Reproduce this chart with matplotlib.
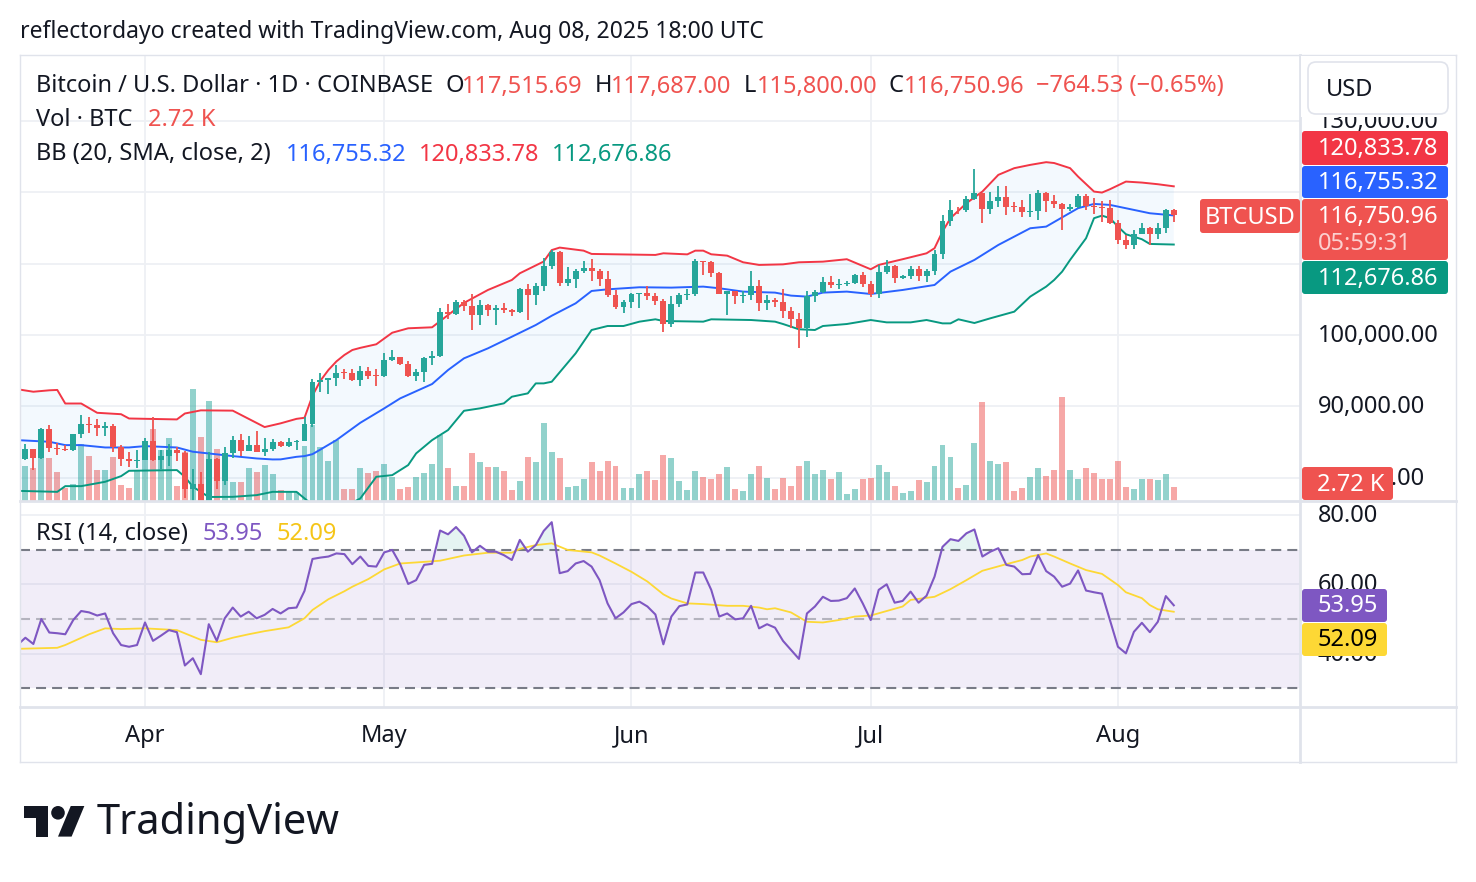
import numpy as np
import pandas as pd
import matplotlib
matplotlib.use("Agg")
import matplotlib.pyplot as plt
import matplotlib.dates as mdates
from matplotlib import transforms
from matplotlib.lines import Line2D
from matplotlib.patches import FancyBboxPatch, Polygon, Circle, Rectangle

plt.rcParams['font.family'] = ['Noto Sans', 'DejaVu Sans']

# ---- daily candles, Mar 17 .. Aug 8 2025 (COINBASE BTCUSD, 1D) ----
first_day = '2025-03-17'
opens = [
    82580, 84030, 82720, 86860, 84200, 84070, 83830, 86080, 87500, 87420, 86900, 87230, 84350, 82650, 82380,
    82540, 85160, 82500, 83100, 83860, 83500, 78370, 79130, 76300, 82600, 79600, 83420, 85280, 83760, 84560,
    83640, 84030, 84940, 84460, 85060, 85170, 87510, 93440, 93700, 93960, 94700, 94650, 93750, 94980, 94250,
    94200, 96480, 96880, 95920, 94300, 94750, 96830, 97030, 103240, 102970, 104650, 104100, 102800, 104150, 103530,
    103750, 103500, 103180, 106450, 105600, 106800, 109600, 111700, 107300, 107800, 109000, 109400, 108950, 107800, 105600, 103900,
    104600, 105700, 105850, 105400, 104700, 101550, 104300, 105600, 105750, 110300, 110250, 108650, 105700, 106100, 105450,
    105550, 106800, 104550, 104850, 104650, 103300, 102200, 100950, 105400, 106050, 107400, 107050, 107100, 107300, 108400,
    107150, 105700, 108850, 109600, 107950, 108200, 109200, 108250, 108950, 111300, 115950, 117550, 117450, 119100, 119850,
    117700, 118750, 119300, 117950, 117900, 117300, 117400, 119950, 118750, 118350, 117650, 117950, 119450, 118050, 117900, 117800,
    115750, 113300, 112550, 114200, 115050, 114100, 115000, 117515.69]
highs = [
    84750, 84040, 87000, 87450, 84800, 84530, 86100, 88770, 88550, 88280, 87800, 87500, 84570, 83540, 83900,
    85500, 88500, 83940, 84700, 84250, 83780, 81200, 80850, 83540, 82700, 84250, 85900, 86100, 85800, 86500,
    85500, 85470, 85100, 85600, 85300, 88450, 93850, 94700, 94000, 95750, 95300, 95200, 95600, 95450, 95200,
    97450, 97900, 96950, 96300, 95200, 96950, 97700, 103800, 104300, 104950, 104950, 105800, 104950, 104300, 104150,
    104550, 103700, 106650, 107100, 107300, 110750, 111980, 111800, 109500, 109300, 110400, 110700, 109300, 108900, 106300, 104900,
    105900, 105900, 106800, 105950, 105000, 105500, 105950, 106400, 110600, 110400, 110400, 108800, 106200, 106200, 106100,
    108900, 107750, 105550, 105250, 106500, 103950, 103100, 106100, 106300, 108100, 108300, 107800, 107600, 108500, 108800,
    107550, 109750, 110550, 109750, 108400, 109700, 109700, 109200, 111950, 116800, 118850, 118000, 119450, 123200, 119950,
    120100, 120950, 120950, 118600, 118850, 119700, 120250, 120100, 119550, 118500, 118300, 119800, 119800, 119250, 118800, 118900,
    116100, 114000, 114750, 115700, 115100, 115700, 117650, 117687.00]
lows = [
    82450, 81150, 82600, 83650, 83170, 83680, 83800, 85540, 86300, 85860, 85800, 83600, 81600, 81570, 81300,
    82430, 82300, 81200, 81650, 82350, 77150, 74500, 76200, 74600, 78450, 78950, 82800, 83050, 83700, 83600,
    83100, 83750, 84300, 84300, 83950, 85150, 87100, 91950, 91700, 92900, 93900, 93600, 92850, 93800, 92900,
    94150, 96350, 95750, 94100, 93500, 93400, 95800, 96950, 102300, 102850, 103350, 100750, 101450, 102650, 101400,
    103100, 102650, 103100, 102050, 104250, 106150, 109300, 106800, 106900, 106650, 108750, 107600, 106800, 105350, 103650, 103100,
    103850, 103750, 104950, 104150, 100400, 101100, 103950, 104900, 105400, 108350, 108100, 105700, 102800, 104300, 104500,
    104950, 103400, 103550, 103950, 102400, 100950, 98200, 99650, 104650, 105850, 106600, 106400, 106800, 107200, 106750,
    105300, 105150, 108600, 107300, 107800, 107800, 107500, 107450, 108350, 110600, 115250, 116950, 117250, 118900, 115700,
    116950, 117900, 116800, 117300, 116550, 116500, 116150, 117300, 117800, 114750, 117400, 117850, 117450, 116900, 115800, 115550,
    112750, 112000, 112000, 114100, 112650, 113400, 114300, 115800.00]
closes = [
    84030, 82720, 86860, 84200, 84070, 83830, 86080, 87500, 87420, 86900, 87230, 84350, 82650, 82380, 82540,
    85160, 82500, 83100, 83860, 83500, 78370, 79130, 76300, 82600, 79600, 83420, 85280, 83760, 84560, 83640,
    84030, 84940, 84460, 85060, 85170, 87510, 93440, 93700, 93960, 94700, 94650, 93750, 94980, 94250, 94200,
    96480, 96880, 95920, 94300, 94750, 96830, 97030, 103240, 102970, 104650, 104100, 102800, 104150, 103530, 103750,
    103500, 103180, 106450, 105600, 106800, 109600, 111700, 107300, 107800, 109000, 109400, 108950, 107800, 105600, 103900, 104600,
    105700, 105850, 105400, 104700, 101550, 104300, 105600, 105750, 110300, 110250, 108650, 105700, 106100, 105450, 105550,
    106800, 104550, 104850, 104650, 103300, 102200, 100950, 105400, 106050, 107400, 107050, 107100, 107300, 108400, 107150,
    105700, 108850, 109600, 107950, 108200, 109200, 108250, 108950, 111300, 115950, 117550, 117450, 119100, 119850, 117700,
    118750, 119300, 117950, 117900, 117300, 117400, 119950, 118750, 118350, 117650, 117950, 119450, 118050, 117900, 117800, 115750,
    113300, 112550, 114200, 115050, 114100, 115000, 117515.49, 116750.96]
# volume in thousands of BTC
volume_k = [
    6.8, 6.35, 8.3, 8.4, 5.7, 2.45, 3.25, 11.1, 8.75, 6.0, 6.0, 8.5, 3.1, 2.6, 6.0,
    8.0, 14.0, 9.9, 12.2, 2.9, 9.6, 21.7, 12.5, 19.4, 10.1, 8.9, 3.75, 3.75, 6.35, 5.7,
    7.0, 5.25, 2.15, 2.0, 1.8, 10.6, 14.7, 10.45, 7.85, 11.75, 2.25, 2.25, 6.35, 5.4, 5.8,
    7.1, 4.6, 2.25, 2.8, 4.6, 5.4, 7.1, 12.9, 6.35, 3.0, 3.0, 9.3, 7.55, 6.55, 6.55,
    5.9, 2.05, 3.85, 8.5, 7.55, 15.1, 9.5, 8.3, 2.7, 2.9, 4.2, 7.55, 5.8, 7.85, 6.7, 2.5,
    2.5, 5.15, 5.8, 4.0, 8.85, 8.3, 3.8, 2.05, 5.8, 4.75, 4.2, 5.15, 6.55, 2.25, 1.85,
    5.15, 6.7, 4.45, 2.25, 4.5, 3.0, 6.7, 7.7, 5.15, 6.1, 4.35, 5.55, 1.4, 2.25, 4.35,
    4.55, 6.9, 5.55, 3.0, 1.65, 1.85, 4.0, 3.6, 6.7, 10.8, 8.45, 2.45, 3.2, 11.35, 19.3,
    7.85, 7.1, 7.5, 1.85, 2.45, 4.75, 6.5, 4.95, 6.1, 20.1, 6.1, 4.35, 6.5, 5.35, 4.2, 4.2,
    7.85, 2.8, 2.25, 4.2, 4.35, 4.0, 5.15, 2.72]

# Bollinger bands (day index from Mar 17, value)
bb_upper_day = [-1, 1, 3, 4, 5, 7, 9, 12, 13, 19, 20, 22, 26, 30, 32, 34, 35, 36, 37, 38, 39, 40, 41, 42, 44,
                46, 48, 51, 53, 55, 58, 61, 62, 65, 66, 67, 70, 71, 79, 80, 83, 84, 85, 86, 88, 90, 92, 95,
                97, 100, 103, 106, 107, 110, 113, 114, 115, 116, 118, 120, 122, 124, 126, 128, 129, 131, 132,
                134, 135, 136, 138, 140, 142, 144]
bb_upper = [92400, 92050, 92250, 92300, 90400, 90400, 89100, 88900, 88300, 88170, 89000, 89440, 89400, 87100,
            87620, 88250, 88400, 91500, 93600, 95100, 96300, 97200, 97900, 98200, 98700, 100320, 100940, 101080,
            102800, 104500, 106310, 107710, 108650, 110300, 111900, 112250, 111820, 111360, 111220, 111450, 111300,
            111820, 111820, 111310, 111120, 110190, 109820, 109900, 110190, 110280, 110620, 109210, 109820, 110620,
            111450, 112160, 114490, 116370, 118470, 120100, 122440, 123380, 123840, 124220, 124100, 123380, 122200,
            120100, 119960, 120430, 121500, 121360, 121130, 120833.78]
bb_basis_day = [-1, 3, 5, 7, 10, 13, 15, 19, 21, 23, 26, 29, 31, 32, 34, 35, 36, 37, 39, 42, 45, 47, 51, 53, 55,
                58, 61, 64, 66, 69, 71, 73, 77, 81, 85, 87, 90, 94, 96, 98, 100, 103, 106, 110, 114, 116, 119,
                122, 126, 128, 130, 132, 134, 136, 139, 141, 144]
bb_basis = [85270, 85040, 84570, 84570, 84240, 84240, 84430, 84240, 83640, 83400, 83030, 82700, 82560, 82570,
            82930, 83030, 83300, 83950, 85270, 87700, 89720, 91120, 93130, 95090, 96730, 98130, 99760, 101400,
            102700, 104440, 106170, 106400, 106690, 106640, 106780, 106550, 106080, 105940, 105520, 105380, 105940,
            106080, 105750, 106310, 107010, 108880, 110520, 112620, 114960, 115190, 116480, 117770, 118370, 118230,
            117530, 117060, 116755.32]
bb_lower_day = [-1, 4, 5, 7, 10, 12, 13, 19, 20, 21, 23, 26, 29, 31, 34, 35, 36, 39, 41, 42, 44, 46, 48, 49, 51,
                53, 55, 57, 60, 61, 63, 64, 65, 66, 69, 71, 73, 75, 77, 79, 80, 85, 86, 91, 94, 95, 97, 99, 100,
                103, 106, 108, 111, 113, 115, 116, 117, 119, 121, 124, 126, 128, 129, 130, 131, 133, 134, 135,
                136, 137, 138, 140, 141, 144]
bb_lower = [78160, 78020, 78820, 78820, 79430, 80220, 80970, 81070, 80130, 78730, 77300, 77320, 77560, 78020,
            78020, 77100, 76200, 75800, 76500, 77100, 80130, 80360, 81770, 83410, 85270, 86680, 89380, 89720,
            90420, 91350, 91820, 93220, 93220, 93450, 97430, 100700, 101260, 101260, 101870, 102200, 101960,
            101870, 102200, 102100, 101870, 101540, 100800, 100700, 101260, 101540, 102100, 101770, 101770, 102100,
            101630, 101630, 102200, 101680, 102340, 103270, 105380, 106780, 107710, 108880, 110520, 113560, 116370,
            116730, 116370, 115190, 114120, 113420, 112760, 112676.86]

# RSI(14) per day, Mar 16 .. Aug 8
rsi = [
    42.5, 44.6, 42.8, 50.0, 46.1, 45.9, 45.6, 49.7, 52.3, 51.9, 51.0, 51.6, 45.9, 42.5, 42.0, 42.5,
    49.0, 43.7, 45.2, 46.8, 46.2, 36.6, 38.7, 34.1, 48.5, 43.7, 50.2, 53.3, 50.7, 52.1, 50.2,
    51.2, 52.9, 51.6, 53.1, 53.3, 58.1, 67.3, 67.7, 68.0, 68.9, 68.7, 65.8, 68.0, 65.3, 65.1,
    69.2, 69.9, 65.8, 60.1, 61.2, 65.6, 65.9, 75.5, 74.4, 76.5, 74.0, 69.2, 71.1, 69.4, 69.4,
    68.4, 67.0, 72.8, 69.4, 71.3, 75.4, 77.9, 63.2, 63.8, 66.0, 66.7, 65.1, 61.2, 54.5, 50.2, 51.9,
    54.3, 55.0, 53.6, 51.3, 42.7, 50.7, 53.7, 54.2, 63.4, 63.4, 58.4, 50.7, 51.6, 49.9, 50.2,
    53.8, 47.3, 48.5, 47.5, 43.7, 41.1, 38.5, 51.6, 53.6, 56.4, 55.2, 55.3, 56.0, 58.8, 54.5,
    49.7, 58.4, 60.0, 54.7, 55.2, 57.9, 54.7, 56.7, 62.2, 70.8, 73.0, 72.5, 74.7, 75.8, 68.0,
    69.4, 70.4, 65.6, 65.1, 62.9, 63.0, 68.4, 63.8, 62.2, 59.3, 60.2, 64.0, 58.2, 57.7, 57.3, 49.7,
    42.0, 40.1, 46.3, 48.9, 46.2, 49.2, 56.6, 53.95]
# RSI-based MA (day index from Mar 17, value)
rsi_ma_day = [-1, 4, 5, 8, 10, 12, 15, 19, 22, 24, 26, 28, 30, 33, 35, 36, 38, 40, 41, 43, 45, 47, 49, 52, 55,
              58, 61, 62, 64, 66, 68, 71, 72, 74, 76, 78, 80, 81, 83, 85, 88, 90, 92, 93, 94, 96, 98, 100,
              102, 104, 106, 108, 110, 111, 114, 116, 118, 120, 123, 125, 126, 128, 129, 131, 133, 135, 137,
              138, 140, 141, 142, 144]
rsi_ma = [41.4, 41.7, 42.5, 45.6, 47.3, 47.1, 47.3, 46.8, 44.0, 43.3, 44.6, 45.6, 46.5, 47.6, 50.2, 52.6, 55.7,
          58.0, 59.3, 61.5, 64.3, 66.0, 66.3, 66.8, 68.3, 69.1, 69.1, 70.2, 71.3, 71.8, 69.9, 69.2, 68.3, 66.0,
          63.6, 60.8, 57.1, 55.9, 54.5, 54.3, 53.8, 53.8, 53.3, 52.8, 53.1, 51.9, 49.2, 49.0, 49.7, 50.7, 51.0,
          52.3, 53.6, 55.5, 56.4, 58.6, 61.2, 63.9, 65.8, 67.0, 68.0, 68.9, 68.0, 66.0, 64.1, 63.0, 59.8, 57.7,
          56.0, 54.0, 52.8, 52.09]

month_starts = ['2025-04-01', '2025-05-01', '2025-06-01', '2025-07-01', '2025-08-01']
month_labels = ['Apr', 'May', 'Jun', 'Jul', 'Aug']
price_levels = [80000, 90000, 100000, 110000, 120000, 130000]
price_labelled = [80000, 90000, 100000, 130000]   # 110k / 120k sit under the value tags
rsi_levels = [40, 60, 80]

# ---- colours ----
UP, DOWN = '#26a69a', '#ef5350'
TXT = '#131722'
GRID = '#eef0f4'
BORDER = '#e0e3eb'
C_BASIS, C_UPPER, C_LOWER = '#2962FF', '#F23645', '#089981'
C_RSI, C_MA = '#7E57C2', '#FDD835'

W, H = 1476, 882
PX_DAY = 7.975
FS = 17

fig = plt.figure(figsize=(W / 100, H / 100), dpi=100)
fig.patch.set_facecolor('white')


def frac(l, t, r, b):
    return [l / W, 1 - b / H, (r - l) / W, (b - t) / H]


ax_vol = fig.add_axes(frac(20, 55, 1300, 501))
ax = fig.add_axes(frac(20, 55, 1300, 501), sharex=ax_vol)
ax_rsi = fig.add_axes(frac(20, 501, 1300, 707), sharex=ax_vol)
ax.patch.set_visible(False)
for a in (ax_vol, ax, ax_rsi):
    for s in a.spines.values():
        s.set_visible(False)
    a.tick_params(left=False, bottom=False, labelleft=False, labelbottom=False)

day0 = mdates.date2num(pd.Timestamp(first_day))
n = len(closes)
xs = day0 + np.arange(n)
apr1 = mdates.date2num(pd.Timestamp(month_starts[0]))
ax_vol.set_xlim(apr1 - 125 / PX_DAY, apr1 + 1155 / PX_DAY)

ax.set_ylim(100000 - 166 / 71.36 * 10000, 100000 + 280 / 71.36 * 10000)
ax_vol.set_ylim(0, 446 / 5.15)
ax_rsi.set_ylim(50 - 88 / 3.47, 50 + 118 / 3.47)

# grid
gy = transforms.blended_transform_factory(ax_vol.transAxes, ax.transData)
for p in price_levels:
    ax_vol.plot([0, 1], [p, p], transform=gy, color=GRID, lw=1.3, zorder=0)
for m in month_starts:
    xm = mdates.date2num(pd.Timestamp(m))
    ax_vol.axvline(xm, color=GRID, lw=1.3, zorder=0)
    ax_rsi.axvline(xm, color=GRID, lw=1.3, zorder=0)
for r in rsi_levels:
    ax_rsi.axhline(r, color=GRID, lw=1.3, zorder=0)

o = np.array(opens); h = np.array(highs); l = np.array(lows); c = np.array(closes)
up = c >= o
cols = np.where(up, UP, DOWN)

# volume
ax_vol.bar(xs, volume_k, width=0.74, color=cols, alpha=0.5, linewidth=0, zorder=2)

# Bollinger bands
xu = day0 + np.array(bb_upper_day)
xb = day0 + np.array(bb_basis_day)
xl = day0 + np.array(bb_lower_day)
ax.fill(np.concatenate([xu, xl[::-1]]), np.concatenate([bb_upper, bb_lower[::-1]]),
        color='#2196F3', alpha=0.05, lw=0, zorder=1)
ax.plot(xu, bb_upper, color=C_UPPER, lw=1.4, zorder=3)
ax.plot(xb, bb_basis, color=C_BASIS, lw=1.4, zorder=3)
ax.plot(xl, bb_lower, color=C_LOWER, lw=1.4, zorder=3)

# candles
ax.vlines(xs, l, h, colors=cols, lw=1.3, zorder=4)
ax.bar(xs, np.maximum(np.abs(c - o), 130), bottom=np.minimum(o, c), width=0.74,
       color=cols, linewidth=0, zorder=5)

# RSI pane
xr = day0 - 1 + np.arange(len(rsi))
rsi_arr = np.array(rsi)
ax_rsi.axhspan(30, 70, color=C_RSI, alpha=0.1, lw=0, zorder=1)
ax_rsi.axhline(70, color='#787B86', lw=1.5, dashes=(4.8, 2.9), zorder=2)
ax_rsi.axhline(30, color='#787B86', lw=1.5, dashes=(4.8, 2.9), zorder=2)
ax_rsi.axhline(50, color='#787B86', alpha=0.5, lw=1.5, dashes=(4.8, 2.9), zorder=2)
ax_rsi.fill_between(xr, 70, rsi_arr, where=rsi_arr > 70, interpolate=True,
                    color='#089981', alpha=0.1, lw=0, zorder=2)
ax_rsi.plot(day0 + np.array(rsi_ma_day), rsi_ma, color=C_MA, lw=1.3, zorder=3)
ax_rsi.plot(xr, rsi_arr, color=C_RSI, lw=1.5, zorder=4)

# ---- frame lines ----
ident = transforms.IdentityTransform()


def pline(x0, y0, x1, y1, color=BORDER, lw=1.5, z=3):
    fig.add_artist(Line2D([x0, x1], [H - y0, H - y1], transform=ident, color=color, lw=lw, zorder=z))


def pbox(x0, y0, x1, y1, fc, ec='none', r=3, z=5, lw=1):
    fig.add_artist(FancyBboxPatch((x0, H - y1), x1 - x0, y1 - y0,
                                  boxstyle=f'round,pad=0,rounding_size={r}',
                                  fc=fc, ec=ec, lw=lw, transform=ident, zorder=z))


def ptext(x, y, s, color=TXT, size=FS, ha='left', z=6, **kw):
    fig.text(x / W, 1 - (y - 1.5) / H, s, color=color, fontsize=size, ha=ha,
             va='center_baseline', zorder=z, **kw)


pline(20, 55, 1456, 55, lw=1)
pline(20, 762, 1456, 762, lw=1)
pline(20, 55, 20, 762, lw=1)
pline(1456, 55, 1456, 762, lw=1)
pline(20, 501, 1456, 501, lw=2)
pline(20, 707, 1456, 707, lw=2)
pline(1300, 55, 1300, 762, lw=2)

# ---- right axis labels ----
ty = transforms.offset_copy(transforms.blended_transform_factory(fig.transFigure, ax.transData),
                            fig=fig, y=2, units='dots')
for p in price_labelled:
    ax.text(1318 / W, p, f'{p:,.2f}', transform=ty, color=TXT, fontsize=FS,
            va='center_baseline', clip_on=False)
tr = transforms.offset_copy(transforms.blended_transform_factory(fig.transFigure, ax_rsi.transData),
                            fig=fig, y=2, units='dots')
for r in rsi_levels:
    ax_rsi.text(1318 / W, r, f'{r:.2f}', transform=tr, color=TXT, fontsize=FS,
                va='center_baseline', clip_on=False)

fig.add_artist(Rectangle((1301, H - 117), 154, 61, transform=ident, fc='white', ec='none', zorder=4))
pbox(1308, 62, 1448, 114, 'white', ec=BORDER, r=8, z=5, lw=1.2)
ptext(1326, 88, 'USD')

pbox(1302, 131, 1448, 165, C_UPPER)
ptext(1318, 147, f'{bb_upper[-1]:,.2f}', color='white')
pbox(1302, 166, 1448, 198, C_BASIS)
ptext(1318, 182, f'{bb_basis[-1]:,.2f}', color='white')
pbox(1302, 199, 1448, 260, DOWN)
ptext(1318, 215, f'{closes[-1]:,.2f}', color='white')
ptext(1318, 243, '05:59:31', color='#fbd0cf')
pbox(1302, 261, 1448, 294, C_LOWER)
ptext(1318, 277, f'{bb_lower[-1]:,.2f}', color='white')
pbox(1200, 199, 1300, 233, DOWN)
ptext(1250, 216, 'BTCUSD', color='white', ha='center')
pbox(1302, 467, 1393, 500, DOWN)
ptext(1317, 484, f'{volume_k[-1]:.2f} K', color='white')
pbox(1302, 589, 1387, 622, C_RSI)
ptext(1318, 605, f'{rsi[-1]:.2f}', color='white')
pbox(1302, 623, 1387, 656, C_MA)
ptext(1318, 639, f'{rsi_ma[-1]:.2f}', color='black')

# ---- time axis ----
tx = transforms.blended_transform_factory(ax_rsi.transData, fig.transFigure)
for m, lab in zip(month_starts, month_labels):
    ax_rsi.text(mdates.date2num(pd.Timestamp(m)), 1 - 733.5 / H, lab, transform=tx,
                ha='center', va='center_baseline', color=TXT, fontsize=FS, clip_on=False)

# ---- legends ----
ptext(20, 30, 'reflectordayo created with TradingView.com, Aug 08, 2025 18:00 UTC', size=16.5)
ptext(36, 85, 'Bitcoin / U.S. Dollar · 1D · COINBASE')
for lx, letter, vx, val in [(446, 'O', 462, opens[-1]), (595, 'H', 611, highs[-1]),
                            (744, 'L', 757, lows[-1]), (888, 'C', 904, closes[-1])]:
    ptext(lx, 85, letter)
    ptext(vx, 85, f'{val:,.2f}', color=DOWN)
chg = closes[-1] - closes[-2]
ptext(1036, 85, f'\u2212{abs(chg):,.2f} (\u2212{abs(chg) / closes[-2] * 100:.2f}%)', color=DOWN)
ptext(36, 119, 'Vol · BTC')
ptext(148, 119, f'{volume_k[-1]:.2f} K', color=DOWN)
ptext(36, 153, 'BB (20, SMA, close, 2)')
ptext(286, 153, f'{bb_basis[-1]:,.2f}', color=C_BASIS)
ptext(419, 153, f'{bb_upper[-1]:,.2f}', color=C_UPPER)
ptext(552, 153, f'{bb_lower[-1]:,.2f}', color=C_LOWER)
ptext(36, 533, 'RSI (14, close)')
ptext(203, 533, f'{rsi[-1]:.2f}', color=C_RSI)
ptext(277, 533, f'{rsi_ma[-1]:.2f}', color='#F5C518')

# ---- TradingView logo ----
s, ox, oy = 1.7, 24, 799.2


def logo_pts(pts):
    return [(ox + s * px, H - (oy + s * py)) for px, py in pts]


fig.add_artist(Polygon(logo_pts([(0, 4), (14, 4), (14, 22), (7, 22), (7, 11), (0, 11)]),
                       closed=True, fc=TXT, ec='none', transform=ident, zorder=5))
fig.add_artist(Polygon(logo_pts([(20, 22), (28, 22), (35.5, 4), (27.5, 4)]),
                       closed=True, fc=TXT, ec='none', transform=ident, zorder=5))
fig.add_artist(Circle((ox + s * 20, H - (oy + s * 8)), 4 * s, fc=TXT, ec='none', transform=ident, zorder=5))
ptext(97, 820, 'TradingView', size=30, fontweight='bold')

fig.savefig('out.png', dpi=100, facecolor='white')
